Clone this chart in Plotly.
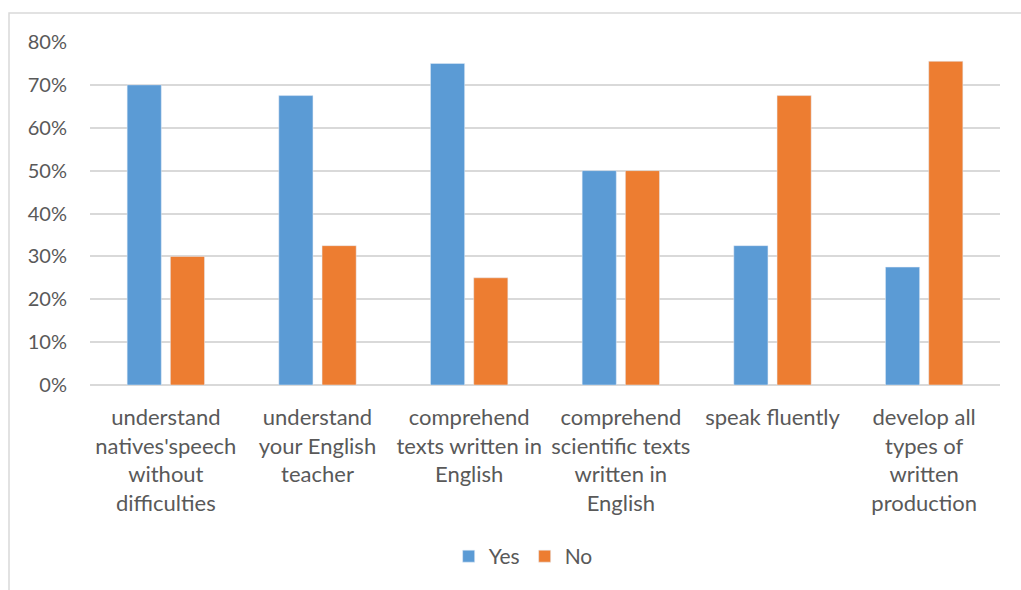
import plotly.graph_objects as go

categories = [
    "understand<br>natives'speech<br>without<br>difficulties",
    "understand<br>your English<br>teacher",
    "comprehend<br>texts written in<br>English",
    "comprehend<br>scientific texts<br>written in<br>English",
    "speak fluently",
    "develop all<br>types of<br>written<br>production",
]
yes_values = [0.70, 0.675, 0.75, 0.50, 0.325, 0.275]
no_values = [0.30, 0.325, 0.25, 0.50, 0.675, 0.755]
tick_values = [0, 0.1, 0.2, 0.3, 0.4, 0.5, 0.6, 0.7, 0.8]
tick_labels = ["0%", "10%", "20%", "30%", "40%", "50%", "60%", "70%", "80%"]

TEXT = "#595959"
GRID = "#d9d9d9"
FONT = "Lato"

fig = go.Figure()
fig.add_trace(go.Bar(name="Yes", x=categories, y=yes_values, marker_color="#5B9BD5"))
fig.add_trace(go.Bar(name="No", x=categories, y=no_values, marker_color="#ED7D31"))

fig.update_layout(
    width=1021,
    height=590,
    margin=dict(l=90, r=21, t=42, b=205),
    paper_bgcolor="white",
    plot_bgcolor="white",
    barmode="group",
    bargap=0.43,
    bargroupgap=0.21,
    font=dict(family=FONT, color=TEXT, size=20),
    showlegend=True,
    legend=dict(
        orientation="h",
        x=0.476,
        xanchor="center",
        y=-0.50,
        yanchor="middle",
        font=dict(size=21, color=TEXT),
        itemwidth=30,
        traceorder="normal",
    ),
    xaxis=dict(
        showgrid=False,
        showline=False,
        ticks="",
        ticklabelstandoff=17,
        tickfont=dict(size=22, color=TEXT),
    ),
    yaxis=dict(
        range=[0, 0.8],
        tickvals=tick_values,
        ticktext=tick_labels,
        showgrid=True,
        gridcolor=GRID,
        gridwidth=1.5,
        zeroline=True,
        zerolinecolor=GRID,
        zerolinewidth=1.5,
        showline=False,
        ticks="",
        ticklabelstandoff=22,
        tickfont=dict(size=20, color=TEXT),
    ),
    shapes=[
        dict(
            type="rect",
            xref="paper",
            yref="paper",
            x0=-0.089,
            x1=1.2,
            y0=-1.0,
            y1=1.0845,
            line=dict(color=GRID, width=1.5),
            fillcolor="rgba(0,0,0,0)",
            layer="below",
        )
    ],
)

fig.write_html("out.html")
